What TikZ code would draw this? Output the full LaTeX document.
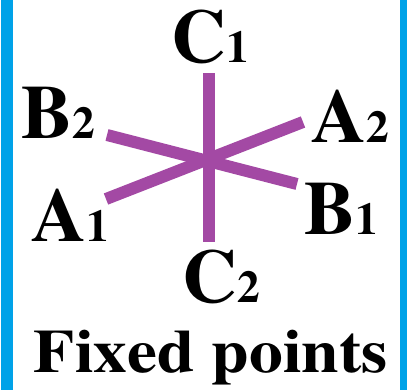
\documentclass[tikz,border=0pt]{standalone}
\usepackage[T1]{fontenc}
\newcommand\labelfont{\fontencoding{T1}\fontfamily{ptm}\fontseries{b}\fontshape{n}}
\definecolor{armcol}{HTML}{A349A4}
\definecolor{framecol}{HTML}{00A2E8}
\newcommand\lblsub[1]{{\fontsize{34}{34}\selectfont #1}}
\begin{document}
\begin{tikzpicture}[x=0.75pt,y=-0.75pt,
  lbl/.style={font=\labelfont\fontsize{57}{57}\selectfont, inner sep=0pt, anchor=base},
  armline/.style={draw=armcol, line width=9pt}]
\useasboundingbox (0,0) rectangle (407,390);
\fill[framecol] (1,0) rectangle (13,390);
\fill[framecol] (400,0) rectangle (407,390);
% arm end points
\coordinate (c1end) at (209,73);
\coordinate (c2end) at (209,242);
\coordinate (b2end) at (107,135);
\coordinate (b1end) at (297,184);
\coordinate (a1end) at (106,199);
\coordinate (a2end) at (303,122);
\draw[armline] (c1end) -- (c2end);
\draw[armline] (b2end) -- (b1end);
\draw[armline] (a1end) -- (a2end);
% labels
\node[lbl] (C1) at (210.5,62) {C\lblsub{1}};
\node[lbl] (C2) at (221,302) {C\lblsub{2}};
\node[lbl] (B2) at (58.5,138) {B\lblsub{2}};
\node[lbl] (A2) at (350,142) {A\lblsub{2}};
\node[lbl] (A1) at (70,241) {A\lblsub{1}};
\node[lbl] (B1) at (341.5,234) {B\lblsub{1}};
\node[inner sep=0pt, anchor=base, font=\labelfont\fontsize{46}{46}\selectfont] (title) at (211,372) {\scalebox{1.1}[1]{Fixed points}};
\end{tikzpicture}
\end{document}
